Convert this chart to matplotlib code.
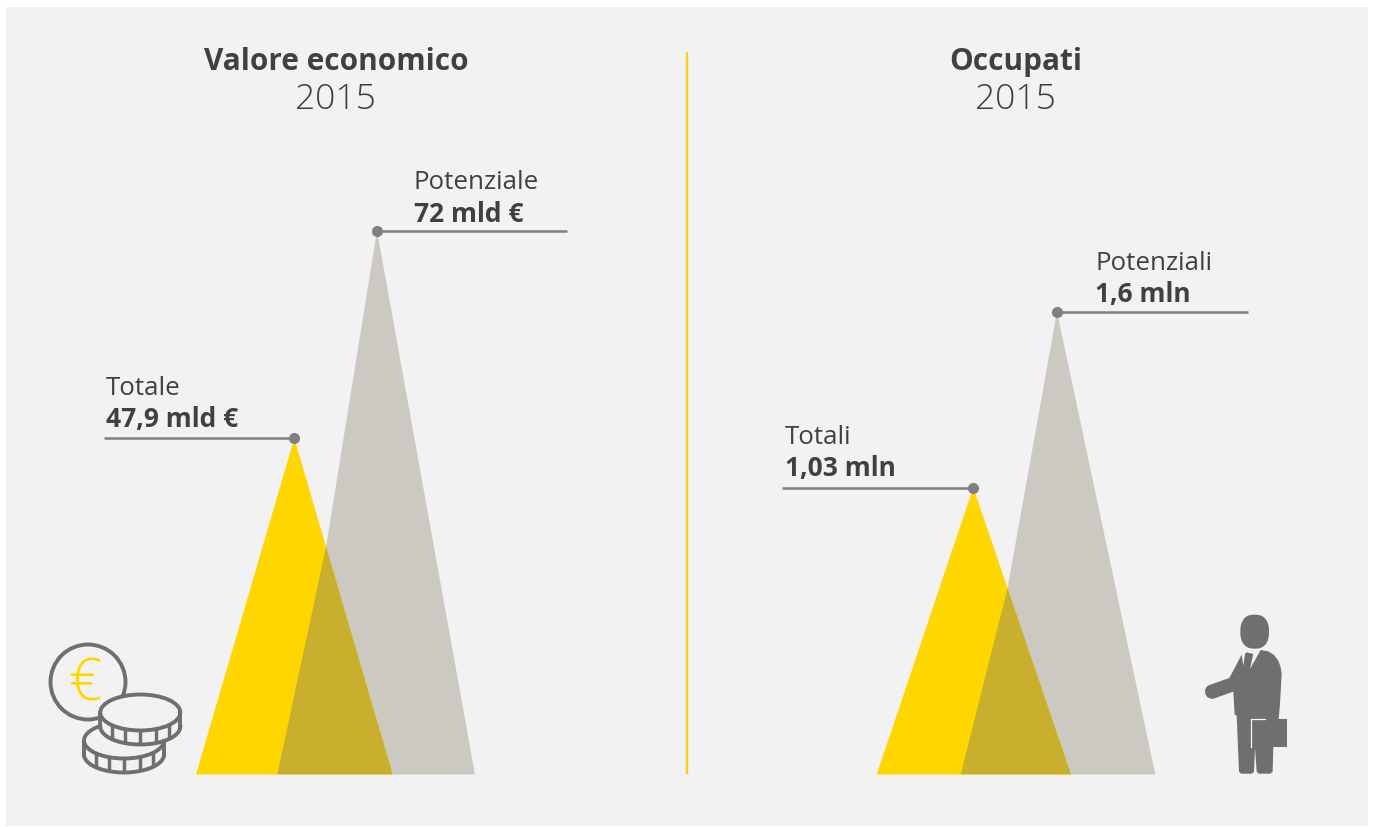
import numpy as np
import matplotlib
matplotlib.use("Agg")
import matplotlib.pyplot as plt
from matplotlib.patches import Circle, Ellipse, Polygon, Rectangle

# --- Values ---
panel_titles = ["Valore economico", "Occupati"]
panel_years = ["2015", "2015"]
econ_names = ["Totale", "Potenziale"]
econ_values = [47.9, 72]
econ_labels = ["47,9 mld €", "72 mld €"]
job_names = ["Totali", "Potenziali"]
job_values = [1.03, 1.6]
job_labels = ["1,03 mln", "1,6 mln"]

# --- Colours ---
BG = "#f2f2f2"
YELLOW = "#ffd600"
TAUPE = "#ccc9c3"
OVERLAP = "#c8af2e"
LINE = "#808080"
TEXT = "#404040"
ICON = "#6f6f6f"

W, H = 1373, 828
BASE_Y = 775.5
FONT = "Open Sans"

fig = plt.figure(figsize=(W / 100, H / 100), dpi=100, facecolor="white")

# overlay in pixel units for the background, headings and icons
bg = fig.add_axes([0, 0, 1, 1], zorder=0)
bg.set_xlim(0, W)
bg.set_ylim(H, 0)
bg.axis("off")
bg.add_patch(Rectangle((6, 7.5), 1362, 820, color=BG, lw=0))
bg.plot([687, 687], [53, BASE_Y], color="#f7d117", lw=1.7, solid_capstyle="butt")


def power_axes(left, right, top_y, ymax, power):
    # axes whose y scale runs from the baseline up to the taller peak
    ax = fig.add_axes([left / W, (H - BASE_Y) / H, (right - left) / W, (BASE_Y - top_y) / H], zorder=1)
    ax.set_yscale("function", functions=(lambda v: np.power(np.maximum(v, 0), power),
                                         lambda v: np.power(np.maximum(v, 0), 1 / power)))
    ax.set_xlim(left, right)
    ax.set_ylim(0, ymax)
    ax.axis("off")
    return ax


def draw_peaks(ax, values, names, labels, centers, front_w, back_w, kink, power, line_len, offsets):
    # back peak has a bend in its left side, where it meets the front peak
    kink_y = values[1] * kink[1] ** (1 / power)
    back = ax.fill([centers[1] - back_w[0], centers[1] + kink[0], centers[1], centers[1] + back_w[1]],
                   [0, kink_y, values[1], 0], color=TAUPE, lw=0)[0]
    front_x = [centers[0] - front_w[0], centers[0], centers[0] + front_w[1]]
    ax.fill(front_x, [0, values[0], 0], color=YELLOW, lw=0)
    both = ax.fill(front_x, [0, values[0], 0], color=OVERLAP, lw=0)[0]
    both.set_clip_path(back)

    # leader lines: first one runs to the left, second one to the right
    ax.plot([centers[0] - line_len, centers[0]], [values[0], values[0]], color=LINE, lw=1.8,
            solid_capstyle="butt", clip_on=False)
    ax.plot([centers[1], centers[1] + line_len], [values[1], values[1]], color=LINE, lw=1.8,
            solid_capstyle="butt", clip_on=False)
    ax.plot(centers, values, "o", color=LINE, ms=8, mew=0, clip_on=False, zorder=5)

    for i in range(2):
        dx, dy_name, dy_val = offsets[i]
        ax.annotate(names[i], (centers[i], values[i]), xytext=(dx, dy_name), textcoords="offset pixels",
                    fontsize=18.6, family=FONT, color=TEXT, va="center", ha="left", annotation_clip=False)
        ax.annotate(labels[i], (centers[i], values[i]), xytext=(dx, dy_val), textcoords="offset pixels",
                    fontsize=19, family=FONT, fontweight="bold", color=TEXT, va="center", ha="left",
                    annotation_clip=False)


left_ax = power_axes(6, 687, 231.7, econ_values[1], 1.18)
draw_peaks(left_ax, econ_values, econ_names, econ_labels, [294.3, 377], [98.3, 98.4], [99.7, 98],
           (-51, 0.418), 1.18, 190, [(-188.5, 51, 20), (37, 49, 17)])

right_ax = power_axes(687, 1368, 312.7, job_values[1], 1.086)
draw_peaks(right_ax, job_values, job_names, job_labels, [973.3, 1057], [96.6, 97.7], [96.3, 98.3],
           (-49.7, 0.40), 1.086, 191, [(-188.5, 51, 20), (38, 49, 18)])

# --- Headings ---
for cx, title, year in zip([336, 1016], panel_titles, panel_years):
    bg.text(cx, 62, title, ha="center", va="center", fontsize=21.4, family=FONT, fontweight="bold", color=TEXT)
    bg.text(cx - 1, 100, year, ha="center", va="center", fontsize=25.5, family=FONT, fontweight="light", color=TEXT)

# --- Coins icon ---
top = fig.add_axes([0, 0, 1, 1], zorder=2)
top.set_xlim(0, W)
top.set_ylim(H, 0)
top.axis("off")
top.patch.set_alpha(0)

top.add_patch(Circle((88, 683), 37.5, fc=BG, ec=ICON, lw=2.8))
top.text(86, 685, "€", color=YELLOW, fontsize=42, family=FONT, fontweight="light", ha="center", va="center")


def coin(cx, cy, rx=40, ry=18, rim=14):
    t = np.linspace(0, np.pi, 60)
    xs = cx + rx * np.cos(t)
    ys = cy + rim + ry * np.sin(t)
    top.fill(np.r_[xs, xs[::-1]], np.r_[ys, ys[::-1] - rim], color=BG, lw=0)
    top.plot(xs, ys, color=ICON, lw=2.8)
    for side in (-1, 1):
        top.plot([cx + side * rx, cx + side * rx], [cy, cy + rim], color=ICON, lw=2.8)
    for off in (-28, -15, 0, 16, 29):
        edge = ry * np.sqrt(1 - (off / rx) ** 2)
        top.plot([cx + off, cx + off], [cy + edge, cy + edge + rim], color=ICON, lw=2.5, solid_capstyle="butt")
    top.add_patch(Ellipse((cx, cy), 2 * rx, 2 * ry, fc=BG, ec=ICON, lw=2.8))


coin(124, 741.5)
coin(140.3, 713.5)


# --- Man icon, outline given in a local grid ---
def man_xy(points):
    return [(1190 + x / 3, 605 + y / 3) for x, y in points]


# head as a rounded superellipse
t = np.linspace(0, 2 * np.pi, 80)
head = np.c_[194 + 43 * np.sign(np.cos(t)) * np.abs(np.cos(t)) ** 0.8,
             83 + 51 * np.sign(np.sin(t)) * np.abs(np.sin(t)) ** 0.85]
top.add_patch(Polygon(man_xy(head), fc=ICON, lw=0))

top.add_patch(Polygon(man_xy([
    (155, 152), (135, 190), (118, 222), (58, 243), (50, 248), (45, 258), (46, 270), (53, 281), (68, 285),
    (130, 263), (134, 332), (140, 334), (147, 503), (153, 509), (186, 509), (192, 503), (195, 432), (200, 503),
    (206, 509), (241, 509), (248, 503), (250, 420), (266, 345), (270, 300), (275, 210), (272, 190), (265, 170),
    (252, 153), (235, 142), (212, 138), (180, 195), (190, 150), (170, 145), (165, 150), (160, 185)]),
    fc=ICON, lw=0))

# briefcase with a thin light edge on its left and top
top.add_patch(Polygon(man_xy([(184, 345), (290, 345), (290, 428), (184, 428)]), fc=ICON, lw=0))
edge_xy = np.array(man_xy([(182, 430), (182, 344), (226, 344)]))
top.plot(edge_xy[:, 0], edge_xy[:, 1], color="#f7f7f7", lw=0.9)

fig.savefig("out.png", dpi=100, facecolor="white")
